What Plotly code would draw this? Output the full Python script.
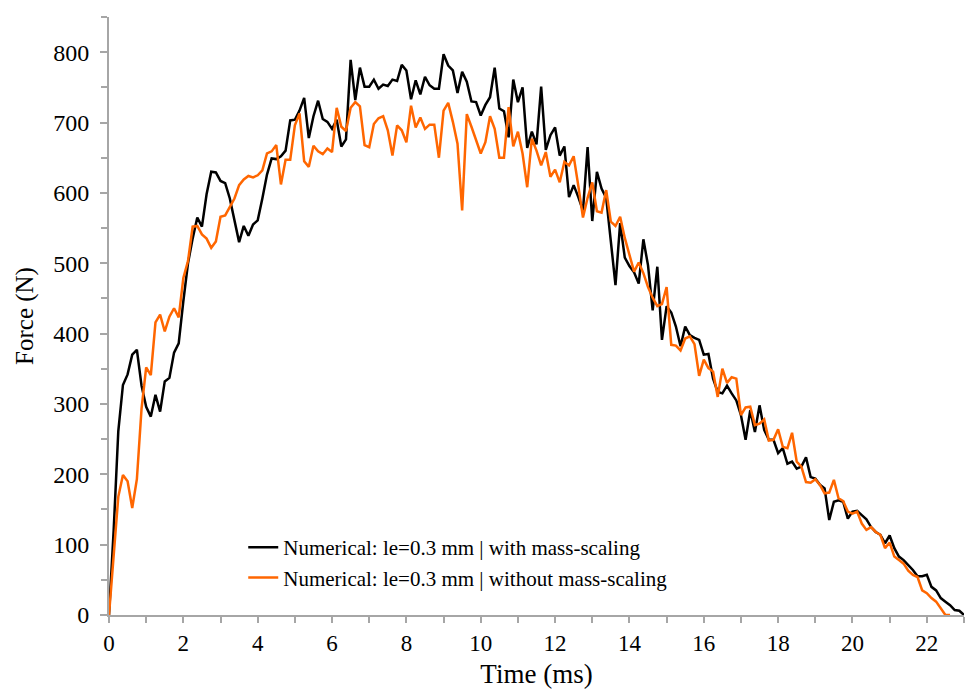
import plotly.graph_objects as go

# Sampling interval of the force output (ms)
dt = 0.125

force_with_ms = [
    0, 120, 261, 327, 342, 370, 377, 326, 296, 282,
    313, 289, 332, 337, 373, 386, 446, 500, 535, 565,
    552, 598, 630, 629, 617, 614, 592, 560, 530, 553,
    539, 555, 561, 592, 626, 649, 648, 652, 660, 703,
    704, 717, 735, 678, 709, 731, 705, 701, 691, 704,
    666, 676, 789, 732, 778, 751, 751, 761, 748, 754,
    752, 761, 759, 782, 774, 733, 760, 740, 765, 753,
    748, 748, 797, 781, 774, 742, 772, 758, 730, 729,
    710, 725, 736, 778, 720, 716, 679, 761, 729, 750,
    664, 687, 669, 751, 661, 682, 693, 653, 666, 594,
    611, 594, 575, 665, 560, 630, 606, 593, 531, 469,
    557, 508, 496, 487, 471, 534, 497, 433, 495, 391,
    439, 430, 410, 382, 410, 398, 394, 391, 370, 371,
    336, 317, 315, 326, 315, 305, 284, 249, 291, 260,
    298, 263, 249, 249, 230, 237, 215, 218, 208, 211,
    224, 196, 194, 185, 180, 135, 161, 163, 161, 137,
    147, 148, 142, 136, 125, 118, 114, 102, 113, 95,
    83, 78, 71, 64, 55, 55, 57, 40, 35, 24,
    19, 14, 7, 6, 0,
]

force_without_ms = [
    0, 85, 168, 199, 190, 152, 193, 293, 352, 341,
    416, 427, 403, 424, 436, 423, 479, 503, 552, 553,
    541, 535, 522, 531, 566, 568, 580, 592, 611, 619,
    624, 622, 625, 632, 656, 659, 668, 612, 647, 647,
    696, 713, 645, 637, 667, 659, 655, 663, 658, 721,
    694, 688, 721, 729, 723, 668, 665, 698, 706, 709,
    689, 653, 696, 689, 672, 724, 693, 707, 691, 697,
    697, 650, 717, 728, 701, 670, 575, 712, 694, 675,
    656, 672, 709, 691, 650, 650, 722, 666, 687, 656,
    608, 677, 660, 639, 658, 623, 633, 615, 644, 639,
    652, 610, 565, 593, 615, 574, 572, 604, 559, 553,
    566, 536, 510, 488, 501, 486, 466, 451, 439, 442,
    466, 384, 383, 376, 393, 396, 385, 340, 363, 351,
    346, 310, 350, 330, 338, 336, 284, 295, 296, 270,
    272, 278, 248, 249, 264, 239, 237, 259, 218, 211,
    189, 188, 193, 185, 173, 174, 192, 166, 162, 147,
    144, 147, 130, 121, 125, 118, 114, 95, 103, 83,
    78, 73, 63, 57, 54, 35, 31, 24, 19, 10,
    0, 0,
]

time_with_ms = [round(i * dt, 3) for i in range(len(force_with_ms))]
time_without_ms = [round(i * dt, 3) for i in range(len(force_without_ms))]

series_names = [
    "Numerical: le=0.3 mm | with mass-scaling",
    "Numerical: le=0.3 mm | without mass-scaling",
]

FONT = "Liberation Serif"
AXIS_GREY = "#a6a6a6"

fig = go.Figure()
fig.add_trace(go.Scatter(
    x=time_with_ms, y=force_with_ms, mode="lines", name=series_names[0],
    line=dict(color="#000000", width=2.5),
))
fig.add_trace(go.Scatter(
    x=time_without_ms, y=force_without_ms, mode="lines", name=series_names[1],
    line=dict(color="#ff6600", width=2.5),
))

fig.update_layout(
    width=966, height=689,
    margin=dict(l=109, r=2, t=17, b=74),
    paper_bgcolor="white", plot_bgcolor="white",
    font=dict(family=FONT, color="black", size=22),
    showlegend=True,
    legend=dict(
        x=0.157, y=0.147, xanchor="left", yanchor="top",
        bgcolor="rgba(0,0,0,0)", font=dict(family=FONT, size=21),
        itemwidth=30, tracegroupgap=0,
    ),
)

fig.update_xaxes(
    range=[0, 23], dtick=2, tick0=0,
    showline=True, linecolor=AXIS_GREY, linewidth=2,
    ticks="outside", ticklen=6, tickcolor=AXIS_GREY, tickwidth=1.5,
    minor=dict(ticks="outside", dtick=1, ticklen=6, tickcolor=AXIS_GREY, tickwidth=1.5),
    showgrid=False, zeroline=False,
    tickfont=dict(family=FONT, size=23),
    title=dict(text="Time (ms)", font=dict(family=FONT, size=27), standoff=12),
)
fig.update_yaxes(
    range=[0, 850], dtick=100, tick0=0,
    showline=True, linecolor=AXIS_GREY, linewidth=2,
    ticks="outside", ticklen=7, tickcolor=AXIS_GREY, tickwidth=1.5,
    minor=dict(ticks="outside", dtick=50, ticklen=6, tickcolor=AXIS_GREY, tickwidth=1.5),
    showgrid=False, zeroline=False,
    tickfont=dict(family=FONT, size=24),
    ticklabelstandoff=6,
    title=dict(text="Force (N)", font=dict(family=FONT, size=25), standoff=12),
)

fig.write_html("out.html")
